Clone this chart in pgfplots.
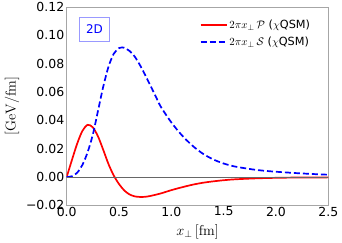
\documentclass[border=0pt]{standalone}
\usepackage[no-math]{fontspec}
\setmainfont{DejaVu Sans}
\usepackage{pgfplots}
\pgfplotsset{compat=1.18}
\begin{document}
\begin{tikzpicture}
\begin{axis}[name=ax, scale only axis, width=261.6bp, height=198.3bp,
 xmin=0, xmax=2.5, ymin=-0.02, ymax=0.12,
 xtick={0,0.5,1,1.5,2,2.5}, xticklabels={0.0,0.5,1.0,1.5,2.0,2.5},
 ytick={-0.02,0,0.02,0.04,0.06,0.08,0.10,0.12},
 yticklabels={−0.02,0.00,0.02,0.04,0.06,0.08,0.10,0.12},
 major tick length=0pt,
 axis line style={color=black!35, line width=0.8bp},
 tick label style={font=\fontsize{12.5}{14}\selectfont},
 xticklabel style={yshift=2bp},
 yticklabel style={xshift=1bp},
 xlabel={$x_\perp\,[\mathrm{fm}]$},
 ylabel={$[\mathrm{GeV/fm}]$},
 label style={font=\fontsize{14}{16}\selectfont},
 xlabel style={yshift=-2bp},
 legend style={draw=none, fill=none, at={(0.95,0.955)}, anchor=north east,
   font=\fontsize{11.3}{13}\selectfont, row sep=3bp},
 legend cell align=left,
 legend image code/.code={\draw[#1] (0bp,0.3bp) -- (26bp,0.3bp);},
 clip=true,
]
\addplot[red, line width=1.7bp, smooth] coordinates {
(0,0) (0.05,0.012) (0.1,0.0235) (0.15,0.0325) (0.2,0.0368) (0.25,0.0350)
(0.3,0.0285) (0.35,0.0190) (0.4,0.0090) (0.45,0.0010) (0.5,-0.0050)
(0.55,-0.0095) (0.6,-0.0123) (0.65,-0.0137) (0.7,-0.0141) (0.75,-0.0140)
(0.8,-0.0134) (0.9,-0.0116) (1.0,-0.0093) (1.1,-0.0073) (1.2,-0.0055)
(1.3,-0.0041) (1.4,-0.0031) (1.5,-0.0023) (1.6,-0.0017) (1.8,-0.0010)
(2.0,-0.0006) (2.2,-0.0004) (2.5,-0.0003)};
\addlegendentry{$2\pi x_\perp\,\mathcal{P}$ ($\chi$QSM)}
\addplot[blue, line width=1.7bp, dash pattern=on 6bp off 3bp, smooth] coordinates {
(0,0) (0.05,0.0005) (0.1,0.003) (0.15,0.0085) (0.2,0.0175) (0.25,0.030)
(0.3,0.047) (0.35,0.064) (0.4,0.078) (0.45,0.0870) (0.5,0.0910) (0.53,0.0915)
(0.55,0.0912) (0.6,0.0890) (0.65,0.0850) (0.7,0.0790) (0.75,0.0720)
(0.8,0.0645) (0.85,0.0570) (0.9,0.0495) (1.0,0.0385) (1.1,0.0295)
(1.2,0.0222) (1.3,0.0165) (1.4,0.0124) (1.5,0.0095) (1.6,0.0075)
(1.7,0.0062) (1.8,0.0051) (1.9,0.0043) (2.0,0.0037) (2.2,0.0027)
(2.4,0.0019) (2.5,0.0016)};
\addlegendentry{$2\pi x_\perp\,\mathcal{S}$ ($\chi$QSM)}
\addplot[black!60, line width=0.8bp, forget plot] coordinates {(0,0) (2.5,0)};
\node[draw=blue!40, line width=0.8bp, text=blue, fill=white,
  font=\fontsize{12}{14}\selectfont, inner xsep=6.5bp, inner ysep=7.5bp,
  text height=8.8bp, text depth=0bp] at (axis cs:0.266,0.1044) {2D};
\end{axis}
\pgfresetboundingbox
\path[use as bounding box] ([xshift=-66.7bp,yshift=-37.7bp]ax.south west)
  rectangle ([xshift=13.7bp,yshift=7bp]ax.north east);
\end{tikzpicture}
\end{document}
